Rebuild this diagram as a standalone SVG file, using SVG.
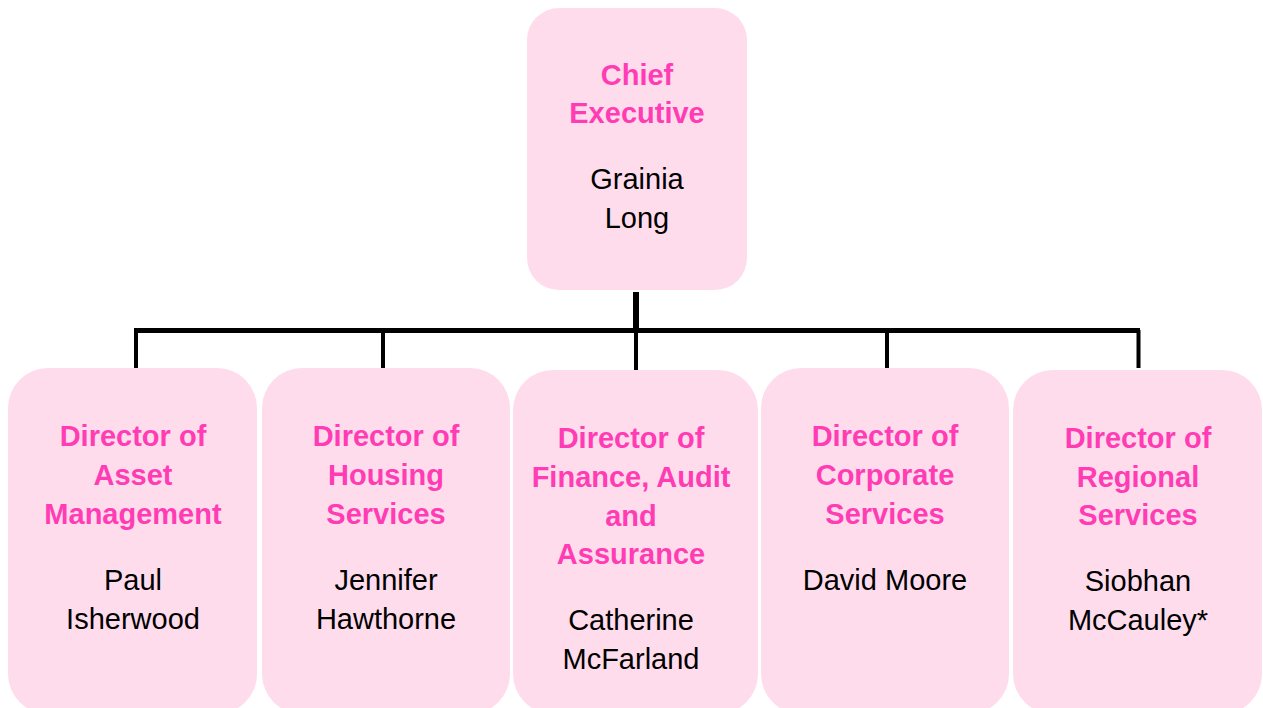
<svg xmlns="http://www.w3.org/2000/svg" width="1263" height="708" viewBox="0 0 1263 708">
  <style>
    .box { fill: #FFDCEC; }
    .title { font-family: "Liberation Sans", Arial, sans-serif; font-size: 29px; font-weight: bold; fill: #FF3CB4; text-anchor: middle; }
    .name { font-family: "Liberation Sans", Arial, sans-serif; font-size: 29px; fill: #000000; text-anchor: middle; }
    .line { stroke: #000000; stroke-width: 4; fill: none; stroke-linecap: butt; }
  </style>
  <rect width="1263" height="708" fill="#FFFFFF"/>

  <!-- connectors -->
  <g id="connectors">
    <line class="line" x1="636" y1="292" x2="636" y2="332" style="stroke-width:6"/>
    <line class="line" x1="134" y1="330.5" x2="1140" y2="330.5" style="stroke-width:5"/>
    <line class="line" x1="136" y1="330" x2="136" y2="368"/>
    <line class="line" x1="383" y1="330" x2="383" y2="368"/>
    <line class="line" x1="636" y1="330" x2="636" y2="370"/>
    <line class="line" x1="887" y1="330" x2="887" y2="368"/>
    <line class="line" x1="1138.5" y1="330" x2="1138.5" y2="368"/>
  </g>

  <!-- chief executive -->
  <g id="chief-executive">
    <rect class="box" x="527" y="8" width="220" height="282" rx="32" ry="32"/>
    <text class="title" x="637" y="85">Chief</text>
    <text class="title" x="637" y="123">Executive</text>
    <text class="name" x="637" y="189">Grainia</text>
    <text class="name" x="637" y="228">Long</text>
  </g>

  <!-- directors -->
  <g id="director-asset-management">
    <rect class="box" x="8" y="368" width="249" height="346" rx="40" ry="40"/>
    <text class="title" x="133" y="446">Director of</text>
    <text class="title" x="133" y="485">Asset</text>
    <text class="title" x="133" y="524">Management</text>
    <text class="name" x="133" y="590">Paul</text>
    <text class="name" x="133" y="629">Isherwood</text>
  </g>

  <g id="director-housing-services">
    <rect class="box" x="262" y="368" width="248" height="346" rx="40" ry="40"/>
    <text class="title" x="386" y="446">Director of</text>
    <text class="title" x="386" y="485">Housing</text>
    <text class="title" x="386" y="524">Services</text>
    <text class="name" x="386" y="590">Jennifer</text>
    <text class="name" x="386" y="629">Hawthorne</text>
  </g>

  <g id="director-finance-audit-assurance">
    <rect class="box" x="513" y="370" width="245" height="344" rx="40" ry="40"/>
    <text class="title" x="631" y="448">Director of</text>
    <text class="title" x="631" y="487">Finance, Audit</text>
    <text class="title" x="631" y="526">and</text>
    <text class="title" x="631" y="564">Assurance</text>
    <text class="name" x="631" y="630">Catherine</text>
    <text class="name" x="631" y="669">McFarland</text>
  </g>

  <g id="director-corporate-services">
    <rect class="box" x="761" y="368" width="248" height="346" rx="40" ry="40"/>
    <text class="title" x="885" y="446">Director of</text>
    <text class="title" x="885" y="485">Corporate</text>
    <text class="title" x="885" y="524">Services</text>
    <text class="name" x="885" y="590">David Moore</text>
  </g>

  <g id="director-regional-services">
    <rect class="box" x="1013" y="370" width="249" height="344" rx="40" ry="40"/>
    <text class="title" x="1138" y="448">Director of</text>
    <text class="title" x="1138" y="487">Regional</text>
    <text class="title" x="1138" y="525">Services</text>
    <text class="name" x="1138" y="591">Siobhan</text>
    <text class="name" x="1138" y="630">McCauley*</text>
  </g>
</svg>
